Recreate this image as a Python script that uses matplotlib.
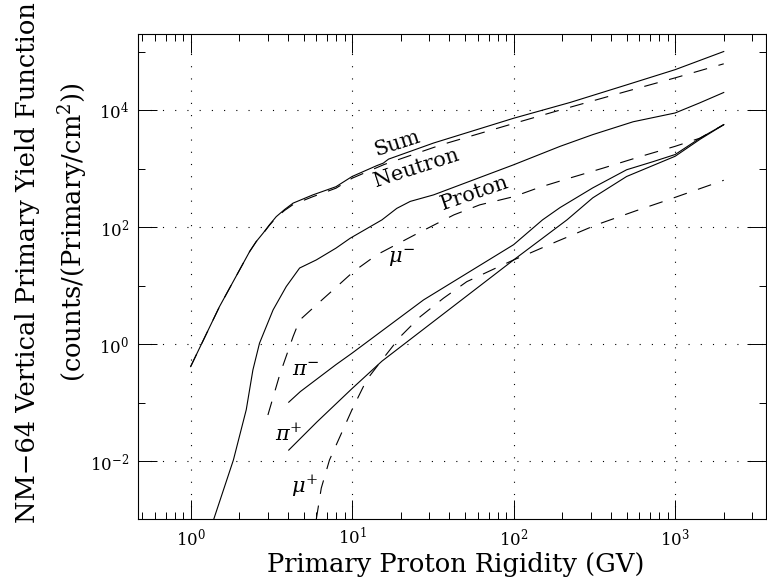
import matplotlib
matplotlib.use('Agg')
import matplotlib.pyplot as plt
from matplotlib.ticker import FixedLocator, FixedFormatter, NullFormatter

plt.rcParams['font.family'] = ['DejaVu Serif']
plt.rcParams['mathtext.fontset'] = 'dejavuserif'
plt.rcParams['lines.scale_dashes'] = False

# values: rigidity (GV) and yield
sum_x = [1.0, 1.51, 2.32, 2.55, 2.81, 3.08, 3.39, 3.82, 4.31, 5.71, 7.94, 10, 14.2, 15.6, 16.8, 31.9, 100, 224, 501, 1000, 2000]
sum_y = [0.414, 4.40, 38.3, 56.8, 78.9, 110, 151, 200, 257, 355, 490, 733, 1122, 1240, 1450, 2730, 7244, 13490, 26920, 48980, 100000]

neutron_x = [1.0, 1.51, 2.32, 2.55, 2.81, 3.08, 3.39, 3.82, 4.31, 5.71, 7.94, 10, 15.8, 36.0, 100, 194, 501, 1000, 2000]
neutron_y = [0.414, 4.40, 38.3, 56.8, 77.6, 108, 146, 193, 243, 331, 462, 684, 1175, 2570, 5890, 10000, 20890, 35480, 61660]

proton_x = [1.39, 1.84, 2.21, 2.43, 2.67, 3.24, 3.91, 4.73, 6.00, 7.94, 9.73, 15.3, 18.9, 22.9, 31.9, 100, 194, 309, 550, 1000, 1413, 2000]
proton_y = [1.02e-3, 0.0105, 0.0759, 0.363, 1.04, 3.85, 9.66, 20.0, 27.5, 43.7, 64.6, 133, 209, 275, 355, 1161, 2399, 3802, 6310, 8913, 13180, 19950]

mum_x = [3.01, 3.56, 4.31, 4.73, 5.58, 6.59, 7.94, 10.2, 14.2, 24.5, 42.7, 61.7, 100, 145, 224, 360, 617, 1000, 1426, 2000]
mum_y = [0.0617, 0.299, 1.35, 2.57, 3.89, 5.89, 9.33, 17.4, 33.6, 74.1, 162, 240, 331, 479, 692, 1023, 1622, 2399, 3311, 5623]

mup_x = [6.00, 6.44, 7.24, 9.98, 12.3, 15.3, 19.9, 26.4, 36.8, 51.3, 75.0, 100, 126, 185, 224, 327, 575, 871, 2000]
mup_y = [1.02e-3, 3.47e-3, 0.0105, 0.0759, 0.245, 0.537, 1.35, 2.95, 6.11, 11.7, 19.1, 27.5, 35.9, 56.8, 70.8, 110, 191, 282, 631]

pim_x = [4.05, 4.78, 7.94, 9.98, 27.7, 100, 151, 194, 309, 501, 733, 1000, 1426, 2000]
pim_y = [0.102, 0.155, 0.447, 0.701, 5.71, 50.1, 133, 216, 468, 955, 1318, 1738, 3311, 5623]

pip_x = [4.05, 6.05, 7.94, 9.98, 15.3, 100, 214, 309, 501, 1000, 1426, 2000]
pip_y = [0.0155, 0.0468, 0.0955, 0.174, 0.513, 27.5, 133, 316, 733, 1622, 3162, 5623]

x_major = [1, 10, 100, 1000]
x_labels = ['$10^{0}$', '$10^{1}$', '$10^{2}$', '$10^{3}$']
y_major = [1e-2, 1, 1e2, 1e4]
y_labels = ['$10^{-2}$', '$10^{0}$', '$10^{2}$', '$10^{4}$']
y_minor = [1e-3, 1e-1, 10, 1e3, 1e5]

fig = plt.figure(figsize=(7.67, 5.86), dpi=100)
ax = fig.add_axes([0.1795, 0.1143, 0.8191, 0.8272])
ax.set_xscale('log')
ax.set_yscale('log')

solid = dict(color='black', lw=0.8)
dashed = dict(color='black', lw=0.8, linestyle=(0, (10, 8.5)))

ax.plot(sum_x, sum_y, **solid)
ax.plot(neutron_x, neutron_y, **dashed)
ax.plot(proton_x, proton_y, **solid)
ax.plot(mum_x, mum_y, **dashed)
ax.plot(mup_x, mup_y, **dashed)
ax.plot(pim_x, pim_y, **solid)
ax.plot(pip_x, pip_y, **solid)

ax.set_xlim(0.47, 3650)
ax.set_ylim(1.03e-3, 1.97e5)

ax.xaxis.set_major_locator(FixedLocator(x_major))
ax.xaxis.set_major_formatter(FixedFormatter(x_labels))
ax.xaxis.set_minor_locator(FixedLocator([k * 10.0**d for d in range(-1, 4) for k in range(2, 10)]))
ax.xaxis.set_minor_formatter(NullFormatter())
ax.yaxis.set_major_locator(FixedLocator(y_major))
ax.yaxis.set_major_formatter(FixedFormatter(y_labels))
ax.yaxis.set_minor_locator(FixedLocator(y_minor))
ax.yaxis.set_minor_formatter(NullFormatter())

ax.tick_params(which='both', direction='in', top=True, right=True, width=0.7, labelsize=12, pad=6)
ax.tick_params(which='major', length=13.7)
ax.tick_params(which='minor', length=4.7)
for s in ax.spines.values():
    s.set_linewidth(0.8)

ax.grid(which='major', color='black', lw=0.8, linestyle=(0, (0.8, 8)))

# curve labels
lab = dict(fontsize=15, ha='center', va='center', rotation_mode='anchor')
ax.text(18.9, 2730, 'Sum', rotation=18, **lab)
ax.text(25.1, 1020, 'Neutron', rotation=18, **lab)
ax.text(57.8, 380, 'Proton', rotation=19, **lab)
ax.text(20.3, 29.5, r'$\mu^{-}$', **lab)
ax.text(5.13, 0.35, r'$\pi^{-}$', **lab)
ax.text(4.04, 0.030, r'$\pi^{+}$', **lab)
ax.text(5.08, 0.00368, r'$\mu^{+}$', **lab)

fig.text(456 / 767, 1 - 572.3 / 586, 'Primary Proton Rigidity (GV)', fontsize=18.5, ha='center', va='baseline')
fig.text(28 / 767, 1 - 263 / 586, 'NM\u221264 Vertical Primary Yield Function', fontsize=18.5,
         rotation=90, ha='center', va='center')
fig.text(73 / 767, 1 - 232 / 586, '(counts/(Primary/cm$^{2}$))', fontsize=18.5,
         rotation=90, ha='center', va='center')

fig.savefig('out.png', dpi=100)
